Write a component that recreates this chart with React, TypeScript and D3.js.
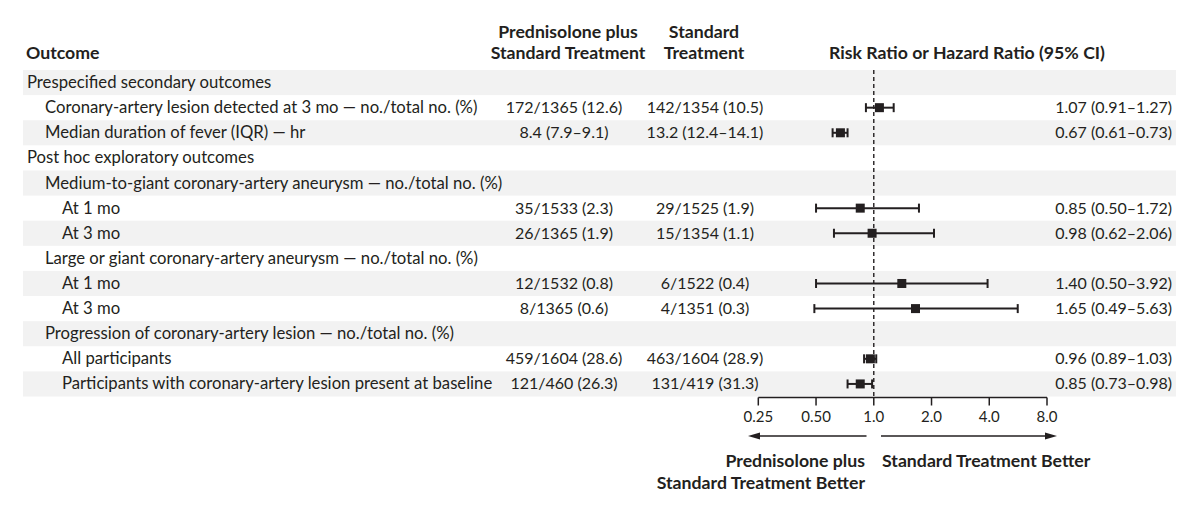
import React from "react";
import * as d3 from "d3";

const rowLabels = [
  "Prespecified secondary outcomes",
  "Coronary-artery lesion detected at 3 mo — no./total no. (%)",
  "Median duration of fever (IQR) — hr",
  "Post hoc exploratory outcomes",
  "Medium-to-giant coronary-artery aneurysm — no./total no. (%)",
  "At 1 mo",
  "At 3 mo",
  "Large or giant coronary-artery aneurysm — no./total no. (%)",
  "At 1 mo",
  "At 3 mo",
  "Progression of coronary-artery lesion — no./total no. (%)",
  "All participants",
  "Participants with coronary-artery lesion present at baseline",
];
const rowLevels = [0, 1, 1, 0, 1, 2, 2, 1, 2, 2, 1, 2, 2];
const prednisoloneCol = [
  "", "172/1365 (12.6)", "8.4 (7.9–9.1)", "", "", "35/1533 (2.3)", "26/1365 (1.9)",
  "", "12/1532 (0.8)", "8/1365 (0.6)", "", "459/1604 (28.6)", "121/460 (26.3)",
];
const standardCol = [
  "", "142/1354 (10.5)", "13.2 (12.4–14.1)", "", "", "29/1525 (1.9)", "15/1354 (1.1)",
  "", "6/1522 (0.4)", "4/1351 (0.3)", "", "463/1604 (28.9)", "131/419 (31.3)",
];
const estimates: (number | null)[] = [null, 1.07, 0.67, null, null, 0.85, 0.98, null, 1.40, 1.65, null, 0.96, 0.85];
const lowerCI: (number | null)[] = [null, 0.91, 0.61, null, null, 0.50, 0.62, null, 0.50, 0.49, null, 0.89, 0.73];
const upperCI: (number | null)[] = [null, 1.27, 0.73, null, null, 1.72, 2.06, null, 3.92, 5.63, null, 1.03, 0.98];
const ratioText = [
  "", "1.07 (0.91–1.27)", "0.67 (0.61–0.73)", "", "", "0.85 (0.50–1.72)", "0.98 (0.62–2.06)",
  "", "1.40 (0.50–3.92)", "1.65 (0.49–5.63)", "", "0.96 (0.89–1.03)", "0.85 (0.73–0.98)",
];
const tickValues = [0.25, 0.5, 1, 2, 4, 8];
const tickLabels = ["0.25", "0.50", "1.0", "2.0", "4.0", "8.0"];

const W = 1199;
const H = 513;
const FONT = "Lato, 'Open Sans', sans-serif";
const INK = "#231f20";

export default function App() {
  const x = d3.scaleLog().base(2).domain([0.25, 8]).range([758.3, 1047]);
  const y = d3
    .scaleBand<number>()
    .domain(d3.range(rowLabels.length))
    .range([70, 396.5])
    .paddingInner(0)
    .paddingOuter(0);
  const bw = y.bandwidth();
  const axisY = 397.5;
  const indent = [27, 45, 62];
  const sq = 9;
  const cap = 4.5;

  return (
    <svg
      width={W}
      height={H}
      style={{ position: "absolute", left: 0, top: 0, background: "#fff" }}
      fontFamily={FONT}
    >
      {/* header */}
      <g fill={INK} fontWeight={700} fontSize={17.7}>
        <text x={26} y={59}>Outcome</text>
        <text x={568} y={38} textAnchor="middle">Prednisolone plus</text>
        <text x={568} y={59} textAnchor="middle">Standard Treatment</text>
        <text x={704} y={38} textAnchor="middle">Standard</text>
        <text x={704} y={59} textAnchor="middle">Treatment</text>
        <text x={967} y={59} textAnchor="middle">Risk Ratio or Hazard Ratio (95% CI)</text>
      </g>

      {/* row backgrounds */}
      {rowLabels.map((_, i) =>
        i % 2 === 0 ? (
          <rect key={"bg" + i} x={23} y={y(i)} width={1153} height={bw} fill="#f2f2f2" />
        ) : null
      )}

      {/* row text */}
      <g fill={INK} fontSize={16}>
        {rowLabels.map((lab, i) => {
          const cy = (y(i) as number) + bw / 2 + 5.5;
          return (
            <g key={"r" + i}>
              <text x={indent[rowLevels[i]]} y={cy} fontSize={16.7}>{lab}</text>
              {prednisoloneCol[i] && (
                <text x={564} y={cy} textAnchor="middle">{prednisoloneCol[i]}</text>
              )}
              {standardCol[i] && (
                <text x={705} y={cy} textAnchor="middle">{standardCol[i]}</text>
              )}
              {ratioText[i] && (
                <text x={1172} y={cy} textAnchor="end">{ratioText[i]}</text>
              )}
            </g>
          );
        })}
      </g>

      {/* reference line */}
      <line
        x1={x(1)}
        x2={x(1)}
        y1={70}
        y2={axisY}
        stroke={INK}
        strokeWidth={1.4}
        strokeDasharray="4,3"
      />

      {/* CIs */}
      {estimates.map((e, i) => {
        if (e == null) return null;
        const cy = (y(i) as number) + bw / 2;
        const x0 = x(lowerCI[i] as number);
        const x1 = x(upperCI[i] as number);
        return (
          <g key={"ci" + i} stroke={INK} strokeWidth={2}>
            <line x1={x0} x2={x1} y1={cy} y2={cy} />
            <line x1={x0} x2={x0} y1={cy - cap} y2={cy + cap} />
            <line x1={x1} x2={x1} y1={cy - cap} y2={cy + cap} />
            <rect x={x(e) - sq / 2} y={cy - sq / 2} width={sq} height={sq} fill={INK} stroke="none" />
          </g>
        );
      })}

      {/* axis */}
      <g stroke={INK} strokeWidth={1.5}>
        <line x1={x(0.25)} x2={x(8)} y1={axisY} y2={axisY} />
        {tickValues.map((t) => (
          <line key={"t" + t} x1={x(t)} x2={x(t)} y1={axisY} y2={axisY + 8} />
        ))}
      </g>
      <g fill={INK} fontSize={15}>
        {tickValues.map((t, i) => (
          <text key={"tl" + t} x={x(t)} y={422} textAnchor="middle">{tickLabels[i]}</text>
        ))}
      </g>

      {/* arrows */}
      <g stroke={INK} strokeWidth={1.5} fill={INK}>
        <line x1={866.5} x2={758} y1={436} y2={436} />
        <path d="M748,436 L760,432.5 L760,439.5 Z" stroke="none" />
        <line x1={881} x2={1047} y1={436} y2={436} />
        <path d="M1057,436 L1045,432.5 L1045,439.5 Z" stroke="none" />
      </g>
      <g fill={INK} fontWeight={700} fontSize={17.7}>
        <text x={865} y={467} textAnchor="end">Prednisolone plus</text>
        <text x={865} y={489} textAnchor="end">Standard Treatment Better</text>
        <text x={882} y={467}>Standard Treatment Better</text>
      </g>
    </svg>
  );
}
